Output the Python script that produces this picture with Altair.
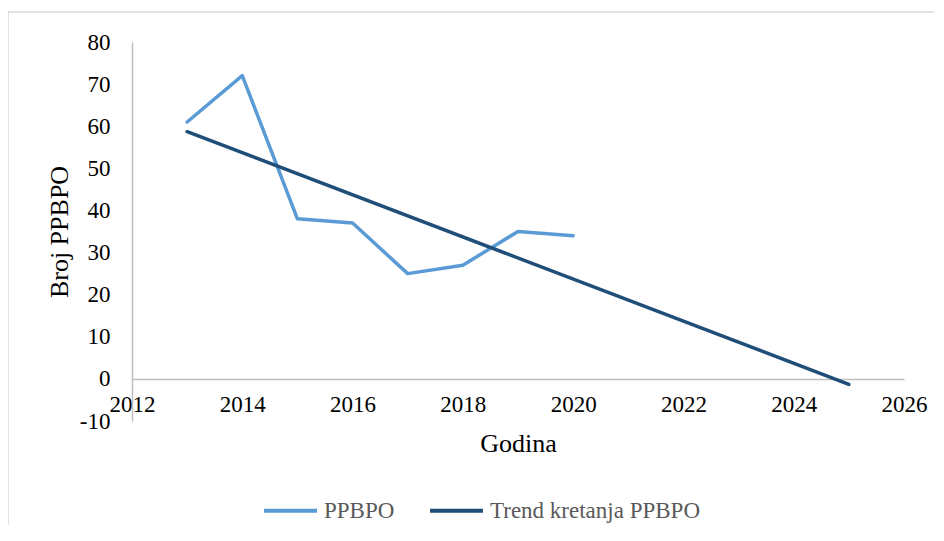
import altair as alt
import pandas as pd

years = [2013, 2014, 2015, 2016, 2017, 2018, 2019, 2020]
ppbpo = [61, 72, 38, 37, 25, 27, 35, 34]
trend_years = [2013, 2025]
trend_values = [58.7, -1.3]
series_names = ["PPBPO", "Trend kretanja PPBPO"]
series_colors = ["#5B9BD5", "#1F4E79"]
x_ticks = [2012, 2014, 2016, 2018, 2020, 2022, 2024, 2026]
y_ticks = [-10, 0, 10, 20, 30, 40, 50, 60, 70, 80]

df = pd.DataFrame(
    {"Godina": years + trend_years,
     "Vrijednost": ppbpo + trend_values,
     "Serija": [series_names[0]] * len(years) + [series_names[1]] * len(trend_years),
     "Red": list(range(len(years))) + list(range(len(trend_years)))}
)

FONT = "Liberation Serif"
W, H = 772, 379

border = alt.Chart(pd.DataFrame({"a": [0]})).mark_rect(
    fill="white", fillOpacity=0, stroke="#D9D9D9", strokeWidth=1.5
).encode(
    x=alt.value(-124), x2=alt.value(W + 60), y=alt.value(-30), y2=alt.value(H + 140)
)

lines = alt.Chart(df).mark_line(strokeWidth=3.5, strokeCap="round", strokeJoin="round").encode(
    x=alt.X("Godina:Q",
            scale=alt.Scale(domain=[2012, 2026], nice=False, zero=False),
            axis=alt.Axis(values=x_ticks, labelExpr="'' + datum.value", title="Godina", grid=False, ticks=False,
                          offset=-42.1, domainColor="#BFBFBF", domainWidth=1.5,
                          labelFont=FONT, labelFontSize=23, labelColor="#000000",
                          labelPadding=15, labelOverlap=False, labelFlush=False, labelBound=False,
                          titleFont=FONT, titleFontSize=26, titleFontWeight="normal", titleColor="#000000",
                          titleY=73, titleBaseline="alphabetic")),
    y=alt.Y("Vrijednost:Q",
            scale=alt.Scale(domain=[-10, 80], nice=False, zero=False),
            axis=alt.Axis(values=y_ticks, labelExpr="'' + datum.value", title="Broj PPBPO", grid=False, ticks=False,
                          domainColor="#BFBFBF", domainWidth=1.5,
                          labelFont=FONT, labelFontSize=23, labelColor="#000000",
                          labelPadding=22, labelOverlap=False, labelBound=False, labelFlush=False,
                          titleFont=FONT, titleFontSize=26, titleFontWeight="normal", titleColor="#000000",
                          titleX=-65, titleY=H / 2, titleAlign="center", titleAngle=270,
                          titleBaseline="alphabetic")),
    color=alt.Color("Serija:N",
                    scale=alt.Scale(domain=series_names, range=series_colors),
                    legend=alt.Legend(title=None, orient="none", direction="horizontal",
                                      legendX=130, legendY=440, padding=0,
                                      symbolType="stroke", symbolSize=2809, symbolStrokeWidth=4,
                                      symbolStrokeColor={"expr": "scale('color', datum.value)"},
                                      labelFont=FONT, labelFontSize=23, labelColor="#595959",
                                      labelLimit=0, labelOffset=5, columnPadding=27)),
    order="Red:Q",
)

chart = alt.layer(border, lines).properties(
    width=W, height=H,
    padding={"left": 124, "top": 34, "right": 30, "bottom": 104},
    autosize=alt.AutoSizeParams(type="none"),
).configure(background="white").configure_view(stroke=None)

chart.save("out.html", embed_options={"renderer": "svg", "actions": False})
